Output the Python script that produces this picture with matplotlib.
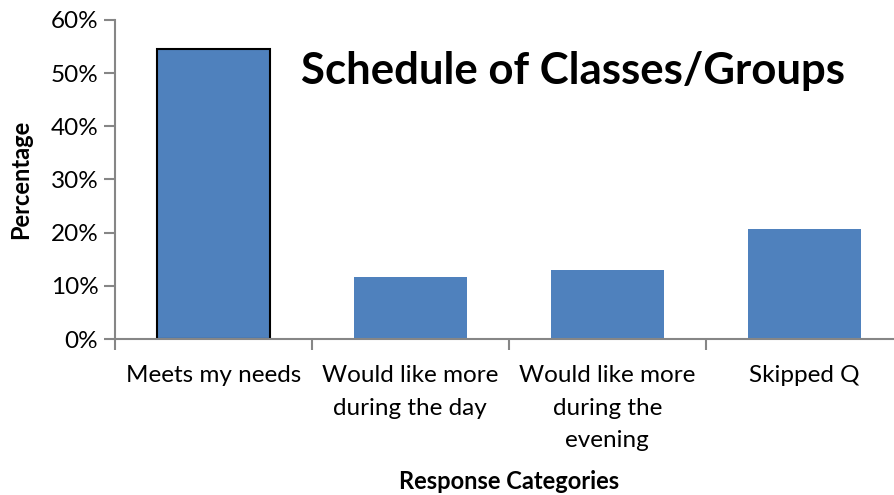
#!/usr/bin/env python3

import matplotlib.pyplot as plt
from matplotlib.ticker import FixedLocator, PercentFormatter

categories = ['Meets my needs', 'Would like more\nduring the day',
              'Would like more\nduring the\nevening', 'Skipped Q']
percent = [54.5, 11.7, 13.0, 20.7]
y_ticks = [0, 10, 20, 30, 40, 50, 60]

plt.rcParams['font.family'] = ['Lato', 'DejaVu Sans']

fig = plt.figure(figsize=(8.95, 4.95), dpi=100)
ax = fig.add_axes([0.1285, 0.315, 0.88, 0.645])

centers = [i + 0.5 for i in range(len(categories))]
bars = ax.bar(centers, percent, width=0.575, color='#4F81BD', zorder=2)
bars[0].set_edgecolor('black')
bars[0].set_linewidth(1.5)

ax.set_xlim(0, len(categories))
ax.set_ylim(0, 60)
ax.set_yticks(y_ticks)
ax.yaxis.set_major_formatter(PercentFormatter(decimals=0))

# tick marks sit between categories, labels at the centres
ax.set_xticks(range(len(categories) + 1))
ax.set_xticklabels([])
ax.xaxis.set_minor_locator(FixedLocator(centers))
ax.set_xticklabels(categories, minor=True, fontsize=17.5, linespacing=1.65)
ax.tick_params(axis='x', which='minor', length=0, pad=19)
ax.tick_params(axis='x', which='major', length=8, width=1.5, color='#868686')
ax.tick_params(axis='y', length=8, width=1.5, color='#868686', labelsize=17.5, pad=4)

for side in ['top', 'right']:
    ax.spines[side].set_visible(False)
for side in ['left', 'bottom']:
    ax.spines[side].set_color('#868686')
    ax.spines[side].set_linewidth(1.5)

ax.set_ylabel('Percentage', fontsize=17, fontweight='bold', labelpad=13)
ax.set_xlabel('Response Categories', fontsize=17, fontweight='bold', labelpad=14)

ax.text(0.581, 0.84, 'Schedule of Classes/Groups', transform=ax.transAxes,
        ha='center', va='center', fontsize=31.5, fontweight='bold')

fig.savefig('out.png', dpi=100)
